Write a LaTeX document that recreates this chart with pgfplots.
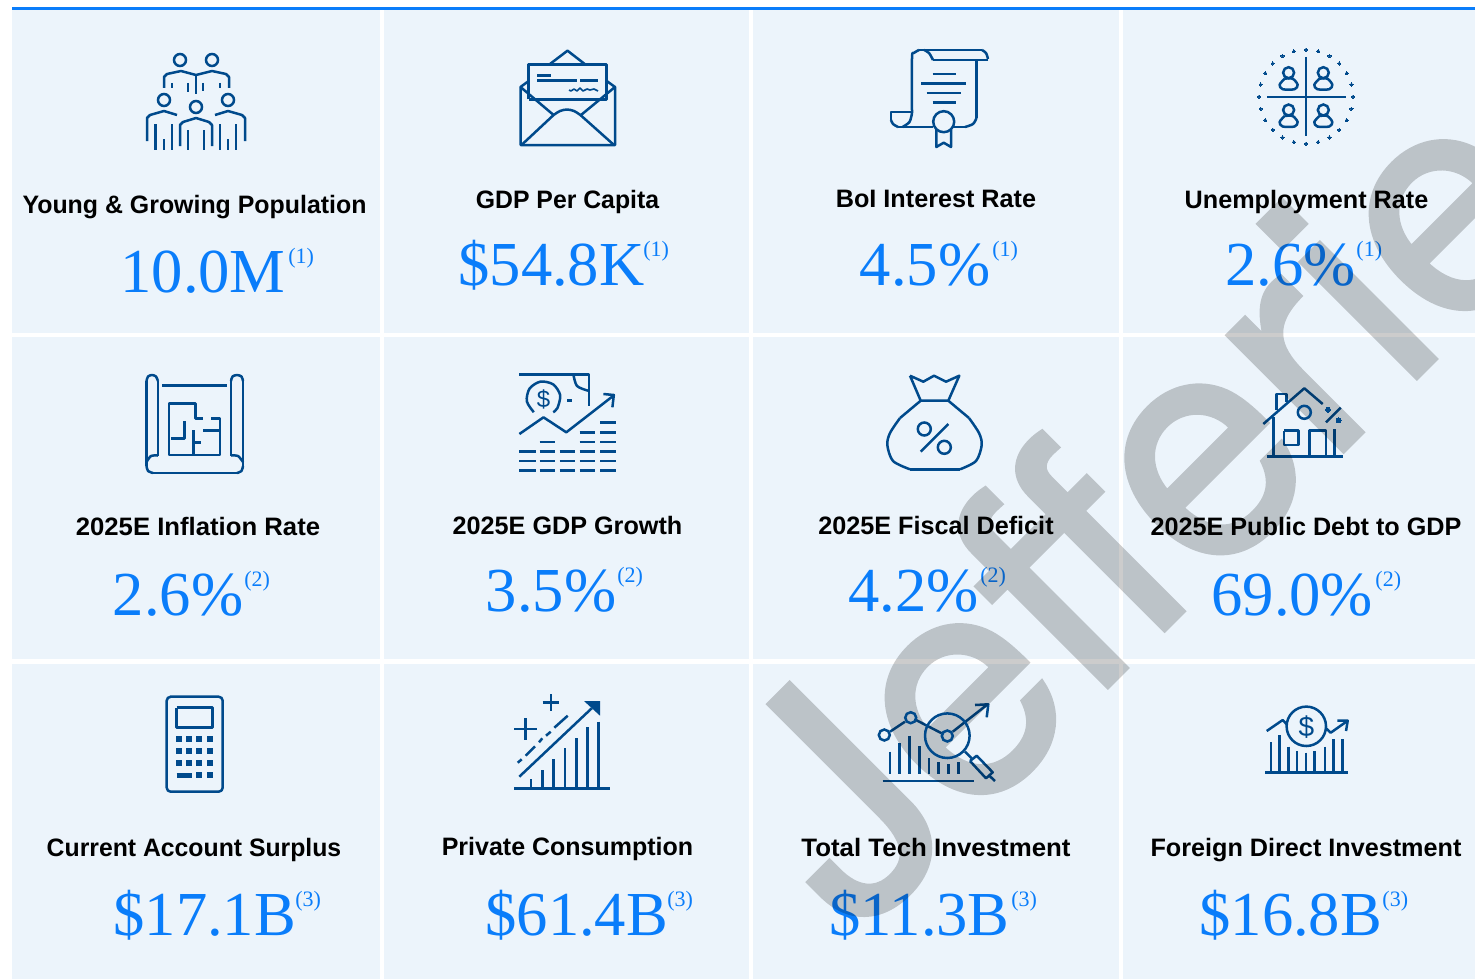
\documentclass[border=0pt]{standalone}
\usepackage{fontspec}
\usepackage{pgfplots}
\pgfplotsset{compat=1.18}
\setmainfont{Liberation Sans}
\newfontfamily\valfont{Liberation Serif}
\newfontfamily\wmfont[RawFeature={embolden=1.7}]{TeX Gyre Heros}
\definecolor{tile}{RGB}{236,244,251}
\definecolor{topblue}{RGB}{10,125,250}
\definecolor{valblue}{RGB}{10,125,250}
\definecolor{iconblue}{RGB}{0,74,140}
\tikzset{icon/.style={color=iconblue,line width=1.25pt,line join=round}}
% everything is placed in reference pixels: 1 px = 0.5 pt
\newcommand{\ipl}[2][]{\addplot[icon,#1] coordinates {#2};}
\newcommand{\iring}[3]{\addplot[only marks,mark=o,mark size=#3*0.5pt,
  mark options={draw=iconblue,fill=none,line width=1.25pt}] coordinates {(#1,#2)};}
\newcommand{\idot}[3][*]{\addplot[only marks,mark=#1,mark size=#2,
  mark options={draw=iconblue,fill=iconblue,line width=0pt}] coordinates {#3};}
\newcommand{\tile}[4]{\addplot[fill=tile,draw=none] coordinates {(#1,#3)(#2,#3)(#2,#4)(#1,#4)} --cycle;}
\newcommand{\lab}[4][1]{\node[anchor=base,xscale=#1,transform shape,font=\fontsize{12.6}{14}\selectfont\bfseries,inner sep=0pt,text=black] at (axis cs:#2,#3) {#4};}
\newcommand{\val}[5]{%
  \node[anchor=base west,inner sep=0pt,text=valblue,font=\valfont\fontsize{31.3}{34}\selectfont] at (axis cs:#1,#2) {#4};
  \node[anchor=base west,inner sep=0pt,text=valblue,font=\valfont\fontsize{11}{12}\selectfont] at (axis cs:#3,#2-29) {#5};}
\newcommand{\person}[2]{\iring{#1}{#2}{5.5}
  \ipl[smooth]{({#1-4},{#2+6})({#1-9},{#2+12})({#1-6},{#2+16.5})({#1+6},{#2+16.5})({#1+9},{#2+12})({#1+4},{#2+6})({#1-4},{#2+6})}}
\begin{document}
\begin{tikzpicture}
\begin{axis}[
    scale only axis, width=737.5pt, height=489.5pt,
    xmin=0, xmax=1475, ymin=0, ymax=979, y dir=reverse,
    hide axis, clip=true,
  ]
  % tiles
  \tile{12}{380}{10}{333} \tile{384}{749}{10}{333} \tile{753}{1119}{10}{333} \tile{1123}{1475}{10}{333}
  \tile{12}{380}{337}{659} \tile{384}{749}{337}{659} \tile{753}{1119}{337}{659} \tile{1123}{1475}{337}{659}
  \tile{12}{380}{664}{979} \tile{384}{749}{664}{979} \tile{753}{1119}{664}{979} \tile{1123}{1475}{664}{979}
  \addplot[color=topblue,line width=1.6pt] coordinates {(12,8.8)(1475,8.8)};

  % people
  \iring{180}{60}{6} \iring{212}{60}{6} \iring{164}{100}{6} \iring{228}{100}{6} \iring{196}{107}{6}
  \ipl{(164,88)(164,77)(167,74)(181,71)(196,75)(212,71)(226,74)(229,77)(229,88)}
  \ipl{(196,75)(196,94)} \ipl{(172,83)(172,88)} \ipl{(188,83)(188,92)} \ipl{(203,83)(203,91)} \ipl{(220,83)(220,88)}
  \ipl{(147,141)(147,118)(150,115)(164,111)(177,115)}
  \ipl{(155.5,124)(155.5,150)} \ipl{(164,139)(164,150)} \ipl{(172,124)(172,150)}
  \ipl{(180,146)(180,125)(183,122)(196,118)(209,122)(212,125)(212,146)}
  \ipl{(188,130)(188,150)} \ipl{(204,130)(204,150)}
  \ipl{(215,115)(228,111)(242,115)(245,118)(245,141)}
  \ipl{(220,124)(220,150)} \ipl{(228,139)(228,150)} \ipl{(236,124)(236,150)}

  % envelope
  \ipl{(528.7,81)(520.5,87)(520.5,145)(615,145)(615,87)(606.7,81)}
  \ipl{(520.5,87)(553.6,115)} \ipl{(615,87)(581,115)}
  \ipl[smooth]{(553.6,115)(560,111)(567,109.5)(574,111)(580.4,115)}
  \ipl{(521.5,145)(553.6,115)} \ipl{(614,145)(580.4,115)}
  \ipl{(528.7,99.3)(528.7,64.3)(606.7,64.3)(606.7,99.3)(528.7,99.3)}
  \ipl{(550,64)(567.5,50.7)(584.7,64)}
  \ipl{(537.3,75.3)(551,75.3)} \ipl{(537.3,80.3)(576.6,80.3)} \ipl{(580.4,80.3)(598,80.3)}
  \ipl[line width=0.8pt]{(569,90)(571,91)(574,89)(577,91)(580,88)(583,91)(587,89)(590,90)(594,89)(598,91)}

  % scroll
  \ipl[smooth]{(912,113)(912,58)(914,53)(919,50)}
  \ipl{(919,50)(982,50)}
  \ipl[smooth]{(982,50)(986,53)(988,59)}
  \ipl{(988,60)(933,60)}
  \ipl[smooth]{(933,60)(929,53)(924,50)}
  \ipl{(976.5,60)(976.5,118)}
  \ipl[smooth]{(976.5,118)(973,124)(965,127)}
  \ipl{(965,127)(953.4,127)} \ipl{(932.6,127)(898,127)}
  \ipl[smooth]{(898,127)(893,124)(891,120)}
  \ipl{(891,120)(891,112)(912,112)}
  \ipl[smooth]{(912,113)(909.5,122)(902.5,127)}
  \ipl{(932.6,74)(955.7,74)} \ipl{(921,83.3)(966.4,83.3)} \ipl{(926.6,93)(960.8,93)} \ipl{(932.6,102.3)(955.7,102.3)}
  \iring{943.7}{121.7}{10.5}
  \ipl{(936.3,130)(936.3,147)(943.7,142.7)(951,147)(951,130)}

  % globe of people
  \ipl{(1267,97)(1345.5,97)} \ipl{(1306,57)(1306,136)}
  \person{1288.6}{72.7} \person{1323.3}{72.7} \person{1288.6}{110} \person{1323.3}{110}
  \idot{0.8pt}{(1353,96.7)(1351.4,108.9)(1346.7,120.2)(1339.2,129.9)(1329.5,137.4)(1318.2,142.1)(1306,143.7)
    (1293.8,142.1)(1282.5,137.4)(1272.8,129.9)(1265.3,120.2)(1260.6,108.9)(1259,96.7)
    (1260.6,84.5)(1265.3,73.2)(1272.8,63.5)(1282.5,56)(1293.8,51.3)(1306,49.7)
    (1318.2,51.3)(1329.5,56)(1339.2,63.5)(1346.7,73.2)(1351.4,84.5)}

  % blueprint
  \ipl{(157.9,456)(157.9,381)}
  \ipl[smooth]{(157.9,381)(156,376.5)(152,375)(148,376.5)(146.5,381)}
  \ipl{(146.5,381)(146.5,466)}
  \ipl[smooth]{(146.5,466)(148,471)(153,473)}
  \ipl{(153,473)(237,473)}
  \ipl[smooth]{(237,473)(241.5,471)(243,466)}
  \ipl{(243,466)(243,381)}
  \ipl[smooth]{(243,381)(241.5,376.5)(237,375)(232.5,376.5)(231,381)}
  \ipl{(231,381)(231,456)}
  \ipl[smooth]{(157.9,455.5)(151,456)(146.5,462)}
  \ipl[smooth]{(231,455.5)(238,456)(243,462)}
  \ipl{(162,385.3)(227.4,385.3)}
  \ipl{(202.6,418.3)(195.7,418.3)(195.7,403.3)(168.9,403.3)(168.9,455)(219.8,455)(219.8,418.3)(211.2,418.3)}
  \ipl{(184.4,421)(184.4,438.3)(170.6,438.3)} \ipl{(193.7,430)(193.7,455)}
  \ipl{(193.7,442.3)(200.5,442.3)} \ipl{(203.3,430.7)(219.8,430.7)}

  % money and growth
  \ipl{(519.4,374.3)(589,374.3)(589,405.7)}
  \ipl[smooth]{(573.5,375)(577,386)(588,390.7)}
  \ipl[smooth]{(533.8,412.2)(526.8,401.3)(529.6,388.5)(540.5,381.6)(553.2,384.4)(560.2,395.3)(557.4,408.1)(553.2,412.2)}
  \node[font=\fontsize{12}{12}\selectfont,text=iconblue,inner sep=0pt] at (axis cs:543.5,399) {\$};
  \ipl{(567,400.7)(571.7,400.7)}
  \ipl{(519.4,434)(543.5,417.3)(566.3,432.3)(613,396)}
  \ipl{(603.4,394)(613.8,395)(612.4,407.3)}
  \ipl{(600,422.7)(615.5,422.7)}
  \ipl{(579.7,432.3)(595.2,432.3)} \ipl{(600,432.3)(615.5,432.3)}
  \ipl{(539.7,442)(555.2,442)} \ipl{(579.7,442)(595.2,442)} \ipl{(600,442)(615.5,442)}
  \ipl{(519.4,451.7)(535.6,451.7)} \ipl{(539.7,451.7)(555.2,451.7)} \ipl{(559.7,451.7)(575.2,451.7)} \ipl{(579.7,451.7)(595.2,451.7)} \ipl{(600,451.7)(615.5,451.7)}
  \ipl{(519.4,461)(535.6,461)} \ipl{(539.7,461)(555.2,461)} \ipl{(559.7,461)(575.2,461)} \ipl{(579.7,461)(595.2,461)} \ipl{(600,461)(615.5,461)}
  \ipl{(519.4,470.7)(535.6,470.7)} \ipl{(539.7,470.7)(555.2,470.7)} \ipl{(559.7,470.7)(575.2,470.7)} \ipl{(579.7,470.7)(595.2,470.7)} \ipl{(600,470.7)(615.5,470.7)}

  % money bag
  \ipl{(910,375.7)(923.3,381.7)(934,375.7)(946,381.7)(959.3,375.7)(948.3,400.7)(920.7,400.7)(910,375.7)}
  \ipl{(920.7,400.7)(900,418)}
  \ipl[smooth]{(900,418)(890,433)(887.3,445)(893,461)(910,469.3)}
  \ipl{(910,469.3)(960,469.3)}
  \ipl[smooth]{(960,469.3)(976,461)(981.7,445)(979,433)(969,418)}
  \ipl{(969,418)(948.3,400.7)}
  \iring{924.3}{429}{6.5} \iring{944.3}{447.3}{6.5} \ipl{(948.3,424)(920.7,451.7)}

  % house
  \ipl{(1263.3,424)(1304.3,388.3)(1322.7,404)}
  \ipl{(1276.7,410)(1276.7,394)(1286.7,394)(1286.7,402)}
  \ipl{(1273.3,417.3)(1273.3,456.7)} \ipl{(1266.7,456.7)(1343.3,456.7)} \ipl{(1334.7,429)(1334.7,456.7)}
  \iring{1304.3}{412.3}{6.5}
  \ipl{(1284,430.7)(1298.3,430.7)(1298.3,445)(1284,445)(1284,430.7)}
  \ipl{(1309.3,456.7)(1309.3,430.7)(1326,430.7)(1326,456.7)}
  \idot{1.25pt}{(1328,409.7)(1338.7,420.3)} \ipl{(1340.7,407.7)(1326,422.3)}

  % calculator
  \ipl[rounded corners=2pt]{(170,696.7)(222.7,696.7)(222.7,791.7)(166.7,791.7)(166.7,696.7)(170,696.7)}
  \ipl{(176.7,707.7)(212.7,707.7)(212.7,727.7)(176.7,727.7)(176.7,707.7)}
  \idot[square*]{1.25pt}{(179.3,739.3)(189.3,739.3)(199.3,739.3)(210.3,739.3)
    (179.3,751.3)(189.3,751.3)(199.3,751.3)(210.3,751.3)
    (179.3,763.3)(189.3,763.3)(199.3,763.3)(210.3,763.3)
    (199.3,775.3)(210.3,775.3)}
  \ipl[line width=2.5pt]{(176.7,775.3)(191.7,775.3)}

  % rising bars
  \ipl{(514,788.3)(610,788.3)}
  \ipl{(531,779.3)(531,788)} \ipl{(542.3,770)(542.3,788)} \ipl{(553.7,759)(553.7,788)} \ipl{(565,748.3)(565,788)}
  \ipl{(576.3,738)(576.3,788)} \ipl{(587.7,727.3)(587.7,788)} \ipl{(598.7,721.7)(598.7,788)}
  \ipl{(519.3,776.7)(591.7,708.3)}
  \addplot[fill=iconblue,draw=none] coordinates {(584,701)(600,701)(600,715.7)} --cycle;
  \ipl{(517.7,762.7)(521.7,759.3)} \ipl{(525.7,755.7)(535,746.3)} \ipl{(539,742.3)(542.3,738.3)}
  \ipl{(546,735.7)(550.7,731.7)} \ipl{(554.3,727.7)(567.7,715.7)}
  \ipl{(514,729)(536.7,729)} \ipl{(525.3,718.3)(525.3,740)}
  \ipl{(542.7,702.3)(559.3,702.3)} \ipl{(551,694.3)(551,710.7)}

  % analytics
  \iring{884.3}{735}{5.5} \iring{910.7}{717.7}{5.5} \iring{947.3}{736}{5.5} \iring{947.3}{735.7}{22.3}
  \ipl{(890,731.7)(905,721.7)} \ipl{(916,720)(941.7,733.3)} \ipl{(952.7,731.7)(986.7,705)}
  \ipl{(975,705)(988.3,704.3)(986.7,717.3)}
  \ipl{(965,751.7)(971.7,758.3)} \ipl{(970,761)(976.7,755.7)(992.7,772.3)(986,778.3)(970,761)} \ipl{(989.3,775.7)(995,781)}
  \ipl{(890,751.7)(890,774)} \ipl{(899.7,743.3)(899.7,774)} \ipl{(909.3,735.7)(909.3,774)} \ipl{(919.3,746)(919.3,774)}
  \ipl{(929,758.3)(929,774)} \ipl{(938.7,762.3)(938.7,774)} \ipl{(948.7,764.3)(948.7,774)} \ipl{(958.3,762.3)(958.3,774)}
  \ipl{(882.7,781)(974,781)}

  % dollar chart
  \iring{1306.3}{726.3}{19.7}
  \node[font=\fontsize{14}{14}\selectfont,text=iconblue,inner sep=0pt] at (axis cs:1306.3,727) {\$};
  \ipl{(1266.7,731)(1282.7,720)(1286.7,724.3)} \ipl{(1326,728.3)(1330.7,732.7)(1347.3,721)}
  \ipl{(1337.3,720.7)(1347.7,720.7)(1346,731)}
  \ipl{(1265,772.3)(1347.7,772.3)}
  \ipl{(1271,742.3)(1271,772)} \ipl{(1279.7,735)(1279.7,772)} \ipl{(1288.3,746.7)(1288.3,772)}
  \ipl{(1297,751)(1297,772)} \ipl{(1306,752.7)(1306,772)} \ipl{(1314.7,751)(1314.7,772)}
  \ipl{(1325,746.7)(1325,772)} \ipl{(1333.7,739)(1333.7,772)} \ipl{(1342.3,739)(1342.3,772)}

  % labels, at their baselines
  \lab[0.988]{194.5}{213}{Young \& Growing Population}
  \lab[0.984]{567.5}{208}{GDP Per Capita}
  \lab{936}{207}{BoI Interest Rate}
  \lab{1306.5}{208}{Unemployment Rate}
  \lab[1.02]{198}{535}{2025E Inflation Rate}
  \lab{567.5}{534}{2025E GDP Growth}
  \lab{936}{534}{2025E Fiscal Deficit}
  \lab{1306}{535}{2025E Public Debt to GDP}
  \lab[0.983]{194}{856}{Current Account Surplus}
  \lab[0.992]{567.5}{855}{Private Consumption}
  \lab[1.026]{936}{856}{Total Tech Investment}
  \lab{1306}{856}{Foreign Direct Investment}

  % values
  \val{120}{292}{288}{10.0M}{(1)}
  \val{458}{285}{643}{\$54.8K}{(1)}
  \val{859.5}{285}{992}{4.5\%}{(1)}
  \val{1225}{285}{1356}{2.6\%}{(1)}
  \val{112.5}{615}{244}{2.6\%}{(2)}
  \val{485.5}{611}{617}{3.5\%}{(2)}
  \val{848}{611}{980}{4.2\%}{(2)}
  \val{1211}{615}{1375}{69.0\%}{(2)}
  \val{113}{935}{295}{\$17.1B}{(3)}
  \val{485}{935}{667}{\$61.4B}{(3)}
  \val{829}{935}{1011}{\$11.3B}{(3)}
  \val{1199}{935}{1382}{\$16.8B}{(3)}

  % watermark
  \begin{scope}[transparency group,opacity=0.2]
  \node[anchor=base west,inner sep=0pt,rotate=45,text=black,
        font=\wmfont\fontsize{155.5}{160}\selectfont] at (axis cs:856,938) {Jefferies};
  \end{scope}
\end{axis}
\pgfresetboundingbox
\path[use as bounding box] (0,0) rectangle (737.5pt,489.5pt);
\end{tikzpicture}
\end{document}
